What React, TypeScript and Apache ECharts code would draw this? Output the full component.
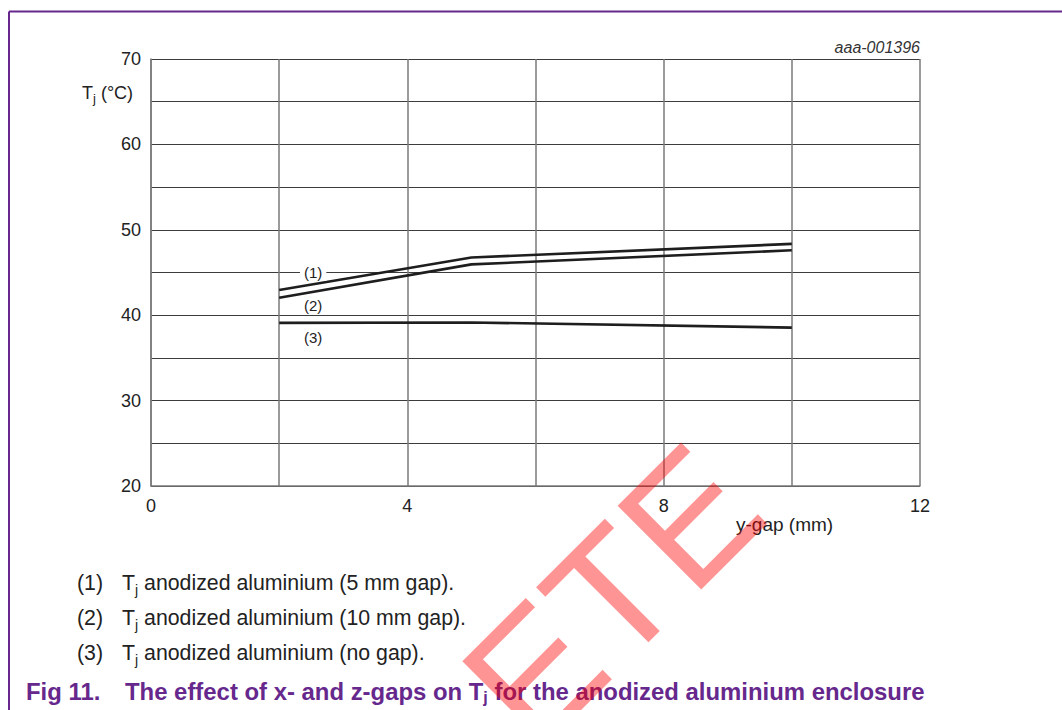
import React, { useEffect, useRef } from 'react';
import * as echarts from 'echarts';

// ---- data ----
const gapMm = [2, 5, 10];
const tjFiveMmGap = [42.95, 46.75, 48.35];
const tjTenMmGap = [42.05, 45.95, 47.6];
const tjNoGap = [39.1, 39.15, 38.55];
const seriesTags = ['(1)', '(2)', '(3)'];
const tagAnchors = [
  [2.53, 45],
  [2.53, 41.1],
  [2.53, 37.4],
];
const legendTexts = [
  ' anodized aluminium (5 mm gap).',
  ' anodized aluminium (10 mm gap).',
  ' anodized aluminium (no gap).',
];
const xTickLabels = [0, 4, 8, 12];
const yTickLabels = [20, 30, 40, 50, 60, 70];
const figLabel = 'Fig 11.';
const captionA = 'The effect of x- and z-gaps on T';
const captionSub = 'j';
const captionB = ' for the anodized aluminium enclosure';
const docCode = 'aaa-001396';
const xAxisTitle = 'y-gap (mm)';
const watermark = 'DELETE';

const FONT = "'Liberation Sans', Arial, Helvetica, sans-serif";
const PURPLE = '#66288c';

function measure(text: string, font: string): number {
  const c = document.createElement('canvas').getContext('2d');
  if (!c) return text.length * 8;
  c.font = font;
  return c.measureText(text).width;
}

export default function App() {
  const ref = useRef<HTMLDivElement>(null);
  useEffect(() => {
    document.body.style.margin = '0';
    if (!ref.current) return;
    const chart = echarts.init(ref.current, null, { renderer: 'svg' });
    const lineStyle = { color: '#1e1e1e', width: 2.6 };
    const mk = (vals: number[]) => gapMm.map((x, i) => [x, vals[i]]);
    chart.setOption({
      animation: false,
      backgroundColor: '#ffffff',
      grid: { left: 151, top: 59, width: 769, height: 427, containLabel: false },
      xAxis: {
        type: 'value',
        min: 0,
        max: 12,
        interval: 2,
        axisLine: { show: true, lineStyle: { color: '#7a7a7a', width: 1.5 } },
        axisTick: { show: false },
        axisLabel: {
          color: '#222',
          fontSize: 18,
          fontFamily: FONT,
          margin: 11,
          formatter: (v: number) => (xTickLabels.indexOf(v) >= 0 ? String(v) : ''),
        },
        splitLine: { show: true, lineStyle: { color: '#7a7a7a', width: 1.5 } },
      },
      yAxis: {
        type: 'value',
        min: 20,
        max: 70,
        interval: 5,
        axisLine: { show: true, lineStyle: { color: '#7a7a7a', width: 1.5 } },
        axisTick: { show: false },
        axisLabel: {
          color: '#222',
          fontSize: 18,
          fontFamily: FONT,
          margin: 10,
          formatter: (v: number) => (yTickLabels.indexOf(v) >= 0 ? String(v) : ''),
        },
        splitLine: { show: true, lineStyle: { color: '#3c3c3c', width: 1 } },
      },
      series: [
        { type: 'line', data: mk(tjFiveMmGap), showSymbol: false, lineStyle, z: 5 },
        { type: 'line', data: mk(tjTenMmGap), showSymbol: false, lineStyle, z: 5 },
        { type: 'line', data: mk(tjNoGap), showSymbol: false, lineStyle, z: 5 },
      ],
    });

    const g: any[] = [];
    // purple frame
    g.push({ type: 'line', shape: { x1: 9, y1: 11.5, x2: 1062, y2: 11.5 }, style: { stroke: PURPLE, lineWidth: 2 } });
    g.push({ type: 'line', shape: { x1: 9, y1: 11.5, x2: 9, y2: 710 }, style: { stroke: PURPLE, lineWidth: 2 } });
    // doc code
    g.push({
      type: 'text', x: 920, y: 47,
      style: { text: docCode, fill: '#333', font: `italic 16px ${FONT}`, align: 'right', verticalAlign: 'middle' },
    });
    // y axis name Tj (°C)
    const yf = `18px ${FONT}`;
    const ysf = `13px ${FONT}`;
    const tW = measure('T', yf);
    g.push({ type: 'text', x: 82, y: 92.5, style: { text: 'T', fill: '#222', font: yf, align: 'left', verticalAlign: 'middle' } });
    g.push({ type: 'text', x: 82 + tW, y: 98.5, style: { text: 'j', fill: '#222', font: ysf, align: 'left', verticalAlign: 'middle' } });
    g.push({ type: 'text', x: 82 + tW + measure('j', ysf), y: 92.5, style: { text: ' (°C)', fill: '#222', font: yf, align: 'left', verticalAlign: 'middle' } });
    // x axis name
    g.push({ type: 'text', x: 736, y: 524, style: { text: xAxisTitle, fill: '#222', font: `19px ${FONT}`, align: 'left', verticalAlign: 'middle' } });
    // series tags
    seriesTags.forEach((t, i) => {
      const p = chart.convertToPixel({ gridIndex: 0 }, tagAnchors[i]) as number[];
      g.push({
        type: 'text', x: p[0], y: p[1], z: 10,
        style: {
          text: t, fill: '#222', font: `15px ${FONT}`, align: 'center', verticalAlign: 'middle',
          backgroundColor: i === 0 ? '#ffffff' : 'transparent', padding: [1, 4],
        },
      });
    });
    // legend lines
    const lf = `21.3px ${FONT}`;
    const sf = `14px ${FONT}`;
    legendTexts.forEach((t, i) => {
      const cy = 582.5 + i * 35;
      g.push({ type: 'text', x: 77, y: cy, style: { text: seriesTags[i], fill: '#222', font: lf, align: 'left', verticalAlign: 'middle' } });
      const tx = 122;
      const jx = tx + measure('T', lf);
      g.push({ type: 'text', x: tx, y: cy, style: { text: 'T', fill: '#222', font: lf, align: 'left', verticalAlign: 'middle' } });
      g.push({ type: 'text', x: jx, y: cy + 7, style: { text: 'j', fill: '#222', font: sf, align: 'left', verticalAlign: 'middle' } });
      g.push({ type: 'text', x: jx + measure('j', sf), y: cy, style: { text: t, fill: '#222', font: lf, align: 'left', verticalAlign: 'middle' } });
    });
    // caption
    const cf = `bold 23.9px ${FONT}`;
    const csf = `bold 16px ${FONT}`;
    const cy = 691;
    g.push({ type: 'text', x: 26, y: cy, style: { text: figLabel, fill: PURPLE, font: cf, align: 'left', verticalAlign: 'middle' } });
    g.push({ type: 'text', x: 125, y: cy, style: { text: captionA, fill: PURPLE, font: cf, align: 'left', verticalAlign: 'middle' } });
    const cjx = 125 + measure(captionA, cf);
    g.push({ type: 'text', x: cjx, y: cy + 6.5, style: { text: captionSub, fill: PURPLE, font: csf, align: 'left', verticalAlign: 'middle' } });
    g.push({ type: 'text', x: cjx + measure(captionSub, csf), y: cy, style: { text: captionB, fill: PURPLE, font: cf, align: 'left', verticalAlign: 'middle' } });
    // watermark
    g.push({
      type: 'text', x: 730, y: 476, rotation: Math.PI / 4, z: 100,
      style: { text: watermark, fill: 'rgba(255, 0, 0, 0.42)', font: `172px ${FONT}`, align: 'right', verticalAlign: 'middle' },
    });

    chart.setOption({ graphic: g });
    return () => chart.dispose();
  }, []);
  return <div ref={ref} style={{ width: 1062, height: 710 }} />;
}
